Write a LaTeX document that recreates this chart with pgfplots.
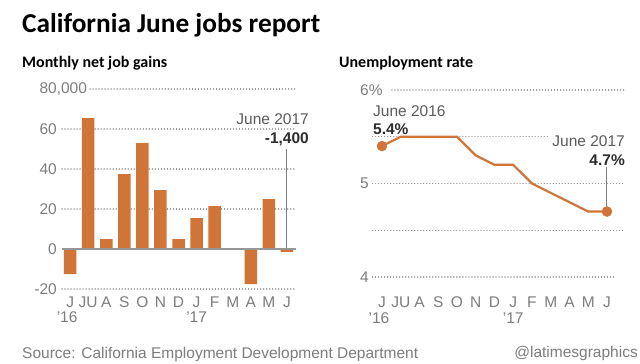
\documentclass[border=0pt]{standalone}
\usepackage{fontspec}
\usepackage{pgfplots}
\pgfplotsset{compat=1.18}
\setmainfont{Liberation Sans}
\newfontfamily\titlefont{Carlito}
\definecolor{barorange}{RGB}{209,116,55}
\definecolor{tickgray}{RGB}{125,125,125}
\definecolor{anngray}{RGB}{90,90,90}
\definecolor{valgray}{RGB}{45,45,45}
\definecolor{gridgray}{RGB}{135,135,135}
\definecolor{zerogray}{RGB}{150,150,150}
\newcommand{\tfont}{\fontsize{15.5}{18}\selectfont}
\tikzset{griddot/.style={draw=gridgray, line width=1.3pt, line cap=round, dash pattern=on 0.01pt off 3pt}}
\pgfplotsset{chartbase/.style={
  scale only axis, anchor=south west, clip=false,
  axis line style={draw=none}, tick style={draw=none},
  xtick={0,...,12},
  xticklabels={J,JU,A,S,O,N,D,J,F,M,A,M,J},
  yticklabel style={anchor=east, inner sep=0pt, font=\tfont, text=tickgray},
  xticklabel style={anchor=base, inner sep=0pt, font=\tfont, text=tickgray},
}}
\begin{document}
\begin{tikzpicture}
\useasboundingbox[fill=white] (0,0) rectangle (640pt,-364pt);
% titles
\node[anchor=base west, inner sep=0pt, font=\titlefont\bfseries\fontsize{27.3}{30}\selectfont] at (22pt,-32pt) {California June jobs report};
\node[anchor=base west, inner sep=0pt, font=\titlefont\bfseries\fontsize{16}{18}\selectfont] at (22pt,-67pt) {Monthly net job gains};
\node[anchor=base west, inner sep=0pt, font=\titlefont\bfseries\fontsize{16}{18}\selectfont] at (339pt,-67pt) {Unemployment rate};
% left chart
\begin{axis}[chartbase,
  at={(62pt,-289pt)}, width=234pt, height=200pt,
  xmin=-0.45, xmax=12.5, ymin=-20, ymax=80,
  ytick={-20,0,20,40,60,80},
  yticklabels={-20,0,20,40,60,{80\rlap{,000}}},
  yticklabel style={xshift=-5pt},
  xticklabel style={yshift=-18pt},
]
\addplot[griddot, no marks] coordinates {(-0.45,-20) (12.5,-20)};
\addplot[griddot, no marks] coordinates {(-0.45,20) (12.5,20)};
\addplot[griddot, no marks] coordinates {(-0.45,40) (12.5,40)};
\addplot[griddot, no marks] coordinates {(-0.45,60) (12.5,60)};
\addplot[griddot, no marks] coordinates {(1.1,80) (12.5,80)};
\addplot[draw=tickgray, line width=1pt, no marks] coordinates {(12,0) (12,50)};
\addplot[ybar, bar width=12.5pt, fill=barorange, draw=none] coordinates {
(0,-12.5) (1,65.5) (2,5) (3,37.5) (4,53) (5,29.5) (6,5) (7,15.5) (8,21.5) (9,0) (10,-17.5) (11,25) (12,-1.4)};
\addplot[draw=zerogray, line width=1.4pt, no marks] coordinates {(-0.45,0) (12.5,0)};
\node[anchor=base, inner sep=0pt, font=\tfont, text=tickgray, xshift=-3pt, yshift=-33pt] at (axis cs:0,-20) {'16};
\node[anchor=base, inner sep=0pt, font=\tfont, text=tickgray, yshift=-33pt] at (axis cs:7,-20) {'17};
\end{axis}
\node[anchor=base east, inner sep=0pt, font=\tfont, text=anngray] at (309pt,-124pt) {June 2017};
\node[anchor=base east, inner sep=0pt, font=\tfont\bfseries, text=valgray] at (309pt,-143pt) {-1,400};
% right chart
\begin{axis}[chartbase,
  at={(372.6pt,-277pt)}, width=251.25pt, height=187pt,
  xmin=-0.5, xmax=12.9, ymin=4, ymax=6,
  ytick={4,5,6},
  yticklabels={4,5,{6\rlap{\%}}},
  yticklabel style={xshift=-3.6pt},
  xticklabel style={yshift=-30pt},
]
\addplot[griddot, no marks] coordinates {(0.53,6) (12.9,6)};
\addplot[griddot, no marks] coordinates {(-0.5,5.5) (12.9,5.5)};
\addplot[griddot, no marks] coordinates {(-0.5,5) (12.9,5)};
\addplot[griddot, no marks] coordinates {(-0.5,4.5) (12.9,4.5)};
\addplot[griddot, no marks] coordinates {(-0.5,4) (12.43,4)};
\addplot[draw=tickgray, line width=1pt, no marks] coordinates {(12,4.7) (12,5.18)};
\addplot[draw=barorange, line width=2.2pt, no marks] coordinates {
(0,5.4) (1,5.5) (2,5.5) (3,5.5) (4,5.5) (5,5.3) (6,5.2) (7,5.2) (8,5.0) (9,4.9) (10,4.8) (11,4.7) (12,4.7)};
\addplot[only marks, mark=*, mark size=5pt, draw=barorange, fill=barorange] coordinates {(0,5.4) (12,4.7)};
\node[anchor=base, inner sep=0pt, font=\tfont, text=tickgray, xshift=-3pt, yshift=-46pt] at (axis cs:0,4) {'16};
\node[anchor=base, inner sep=0pt, font=\tfont, text=tickgray, yshift=-46pt] at (axis cs:7,4) {'17};
\end{axis}
\node[anchor=base west, inner sep=0pt, font=\tfont, text=anngray] at (373pt,-116pt) {June 2016};
\node[anchor=base west, inner sep=0pt, font=\tfont\bfseries, text=valgray] at (373pt,-134pt) {5.4\%};
\node[anchor=base east, inner xsep=3pt, inner ysep=1pt, fill=white, font=\tfont, text=anngray] at (628pt,-146pt) {June 2017};
\node[anchor=base east, inner sep=0pt, font=\tfont\bfseries, text=valgray] at (625pt,-165pt) {4.7\%};
% footer
\node[anchor=base west, inner sep=0pt, font=\tfont, text=tickgray] at (22pt,-358pt) {Source: California Employment Development Department};
\node[anchor=base east, inner sep=0pt, font=\tfont, text=tickgray] at (638pt,-357pt) {@latimesgraphics};
\end{tikzpicture}
\end{document}
